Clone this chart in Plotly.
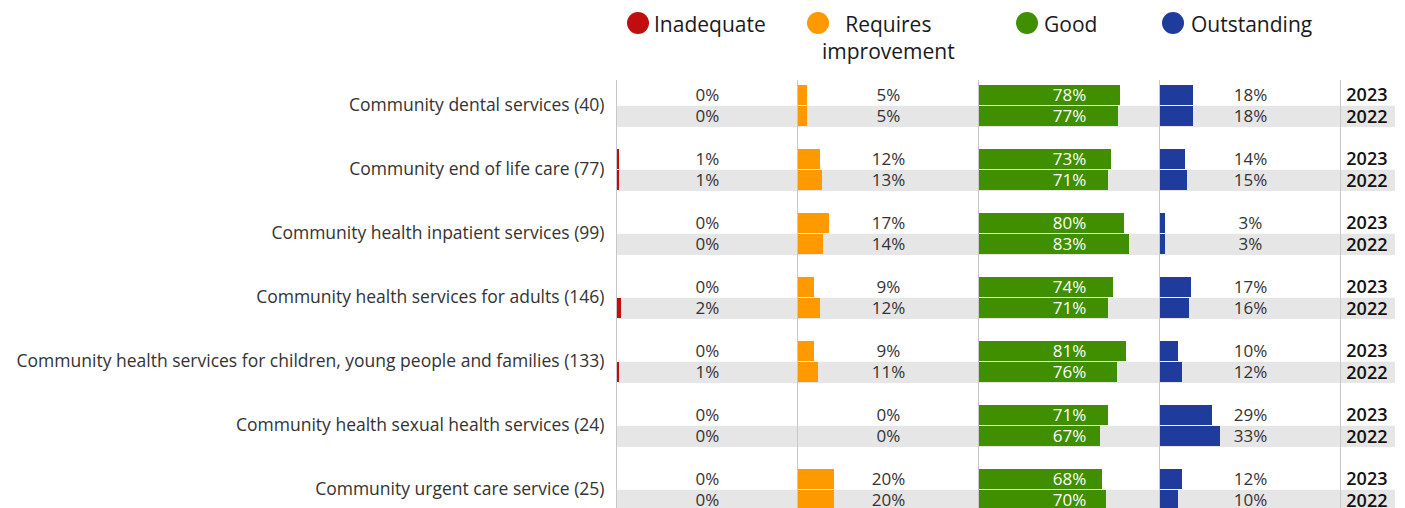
import plotly.graph_objects as go
from plotly.subplots import make_subplots

# Core services and their ratings share (%) by year
services = [
    "Community dental services (40)",
    "Community end of life care (77)",
    "Community health inpatient services (99)",
    "Community health services for adults (146)",
    "Community health services for children, young people and families (133)",
    "Community health sexual health services (24)",
    "Community urgent care service (25)",
]
years = ["2023", "2022"]
ratings = ["Inadequate", "Requires<br>improvement", "Good", "Outstanding"]

inadequate_2023 = [0, 1, 0, 0, 0, 0, 0]
inadequate_2022 = [0, 1, 0, 2, 1, 0, 0]
requires_2023 = [5, 12, 17, 9, 9, 0, 20]
requires_2022 = [5, 13, 14, 12, 11, 0, 20]
good_2023 = [78, 73, 80, 74, 81, 71, 68]
good_2022 = [77, 71, 83, 71, 76, 67, 70]
outstanding_2023 = [18, 14, 3, 17, 10, 29, 12]
outstanding_2022 = [18, 15, 3, 16, 12, 33, 10]

colors = ["#c00d0d", "#ff9900", "#3f8f00", "#1f3b9c"]
label_colors = ["#333333", "#333333", "#ffffff", "#333333"]

series = [
    (inadequate_2023, inadequate_2022),
    (requires_2023, requires_2022),
    (good_2023, good_2022),
    (outstanding_2023, outstanding_2022),
]

W, H = 1405, 508
L, R, T, B = 617, 10, 80, 0
plot_w = W - L - R
plot_h = H - T - B

fig = make_subplots(
    rows=1, cols=5, shared_yaxes=True, horizontal_spacing=0,
    column_widths=[181, 181, 181, 181, 54],
)

# row layout: each service takes two rows (2023, 2022) plus a spacer row
def ypos(i, j):
    return 3 * i + j

ys_all = [ypos(i, j) for i in range(len(services)) for j in range(2)]
# text sits a touch below the row centre
text_dy = 0.08
ys_text = [y + text_dy for y in ys_all]

for k, (s23, s22) in enumerate(series):
    vals = [v for pair in zip(s23, s22) for v in pair]
    fig.add_trace(
        go.Bar(
            x=vals, y=ys_all, orientation="h", width=0.95,
            marker=dict(color=colors[k], line=dict(width=0)),
            showlegend=False, hoverinfo="skip",
        ),
        row=1, col=k + 1,
    )
    fig.add_trace(
        go.Scatter(
            x=[50] * len(vals), y=ys_text, mode="text",
            text=[f"{v}%" for v in vals],
            textposition="middle center",
            textfont=dict(family="Open Sans", size=17, color=label_colors[k]),
            showlegend=False, hoverinfo="skip",
        ),
        row=1, col=k + 1,
    )

# year column
fig.add_trace(
    go.Scatter(
        x=[0.48] * len(ys_all), y=ys_text, mode="text",
        text=[years[j] for i in range(len(services)) for j in range(2)],
        textposition="middle center",
        textfont=dict(family="Open Sans", size=18, color="#111111", weight=600),
        showlegend=False, hoverinfo="skip",
    ),
    row=1, col=5,
)

# grey band behind the 2022 rows
for i in range(len(services)):
    fig.add_shape(
        type="rect", xref="paper", yref="y",
        x0=0, x1=1, y0=ypos(i, 1) - 0.5, y1=ypos(i, 1) + 0.5,
        fillcolor="#e6e6e6", line=dict(width=0), layer="below",
    )

y_top = -(95 - T) / (64 / 3)
y_bot = (H - 95) / (64 / 3)

for c in range(1, 6):
    fig.update_xaxes(
        range=[0, 100] if c < 5 else [0, 1],
        showgrid=False, zeroline=False, showticklabels=False, ticks="",
        fixedrange=True, row=1, col=c,
    )
    fig.update_yaxes(
        range=[y_bot, y_top], showgrid=False, zeroline=False,
        showline=True, linecolor="#c8c8c8", linewidth=1,
        ticks="", row=1, col=c,
    )

fig.update_yaxes(
    tickmode="array",
    tickvals=[ypos(i, 0) + 0.45 for i in range(len(services))],
    ticktext=services,
    tickfont=dict(family="Open Sans", size=17.5, color="#333333"),
    ticklabelstandoff=8,
    row=1, col=1,
)


def px_x(px):
    return (px - L) / plot_w


def px_y(py):
    return (H - B - py) / plot_h


# rating keys above the panels
legend_items = [
    (638, 652, "left"),
    (818, 888, "center"),
    (1027, 1042, "left"),
    (1173, 1189, "left"),
]
for k, (cx, tx, anchor) in enumerate(legend_items):
    fig.add_shape(
        type="circle", xref="paper", yref="paper",
        xsizemode="pixel", ysizemode="pixel",
        xanchor=px_x(cx), yanchor=px_y(23),
        x0=-11, x1=11, y0=-11, y1=11,
        fillcolor=colors[k], line=dict(width=0),
    )
    fig.add_annotation(
        xref="paper", yref="paper", x=px_x(tx), y=px_y(8),
        xanchor=anchor, yanchor="top", align="center",
        text=ratings[k], showarrow=False,
        font=dict(family="Open Sans", size=21, color="#1a1a1a", weight=500),
    )

fig.update_layout(
    width=W, height=H,
    margin=dict(l=L, r=R, t=T, b=B, pad=0),
    paper_bgcolor="white", plot_bgcolor="white",
    barmode="overlay", bargap=0,
    showlegend=False,
)

fig.write_html("out.html")
